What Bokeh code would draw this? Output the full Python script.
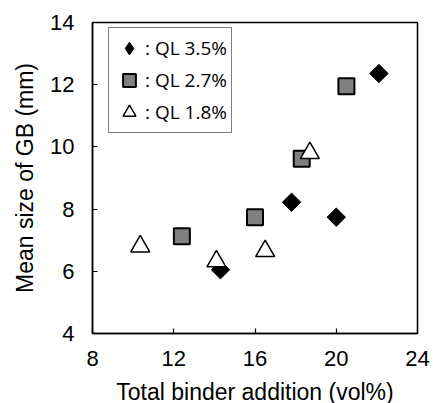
import math
from bokeh.plotting import figure
from bokeh.models import Legend, LegendItem, FixedTicker, Range1d
from bokeh.embed import file_html
from bokeh.resources import INLINE

# Data
ql35_x = [14.3, 17.8, 20.0, 22.1]
ql35_y = [6.05, 8.22, 7.74, 12.36]
ql27_x = [12.4, 16.0, 18.3, 20.5]
ql27_y = [7.13, 7.74, 9.62, 11.95]
ql18_x = [10.35, 14.1, 16.5, 18.7]
ql18_y = [6.8, 6.32, 6.65, 9.8]
labels = [": QL 3.5%", ": QL 2.7%", ": QL 1.8%"]
x_ticks = [8, 12, 16, 20, 24]
y_ticks = [4, 6, 8, 10, 12, 14]

p = figure(width=433, height=403, output_backend="svg", toolbar_location=None,
           x_range=Range1d(8, 24), y_range=Range1d(4, 14),
           min_border_left=92, min_border_right=16, min_border_top=22, min_border_bottom=70,
           frame_width=325, frame_height=311)
p.xgrid.visible = False
p.ygrid.visible = False
p.outline_line_color = "black"
p.outline_line_width = 1.5
p.background_fill_color = "white"
p.border_fill_color = "white"

for ax in (p.xaxis[0], p.yaxis[0]):
    ax.major_tick_in = 5
    ax.major_tick_out = 0
    ax.minor_tick_in = 0
    ax.minor_tick_out = 0
    ax.axis_line_color = "black"
    ax.axis_line_width = 1.5
    ax.major_tick_line_color = "black"
    ax.major_tick_line_width = 1.2
    ax.major_label_text_font = "Liberation Sans"
    ax.major_label_text_font_size = "22px"
    ax.major_label_text_color = "black"
    ax.axis_label_text_font = "Liberation Sans"
    ax.axis_label_text_font_size = "23px"
    ax.axis_label_text_font_style = "normal"
    ax.axis_label_text_color = "black"

p.xaxis.ticker = FixedTicker(ticks=x_ticks)
p.yaxis.ticker = FixedTicker(ticks=y_ticks)
p.xaxis.axis_label = "Total binder addition (vol%)"
p.yaxis.axis_label = "Mean size of GB (mm)"
p.xaxis.major_label_standoff = 17
p.yaxis.major_label_standoff = 18
p.xaxis.axis_label_standoff = 10
p.yaxis.axis_label_standoff = 9

r1 = p.scatter(ql35_x, ql35_y, marker="square", angle=math.pi / 4, size=13,
               fill_color="black", line_color="black")
r2 = p.scatter(ql27_x, ql27_y, marker="square", size=16, fill_color="#808080",
               line_color="black", line_width=2)
r3 = p.scatter(ql18_x, ql18_y, marker="triangle", size=19, fill_color="white",
               line_color="black", line_width=1.5)
# legend-only key for the diamond (the legend does not apply a marker angle)
r1_key = p.scatter(x=[math.nan], y=[math.nan], marker="diamond",
                   fill_color="black", line_color="black")

legend = Legend(items=[LegendItem(label=labels[0], renderers=[r1_key]),
                       LegendItem(label=labels[1], renderers=[r2]),
                       LegendItem(label=labels[2], renderers=[r3])],
                location=(16, 200))
legend.border_line_color = "black"
legend.border_line_width = 1.5
legend.label_text_font = "Open Sans"
legend.label_text_font_size = "19px"
legend.label_text_color = "black"
legend.label_standoff = 0
legend.glyph_width = 32
legend.glyph_height = 32
legend.spacing = 0
legend.padding = 4
legend.margin = 0
p.add_layout(legend, "center")

open("out.html", "w").write(file_html(p, INLINE))
